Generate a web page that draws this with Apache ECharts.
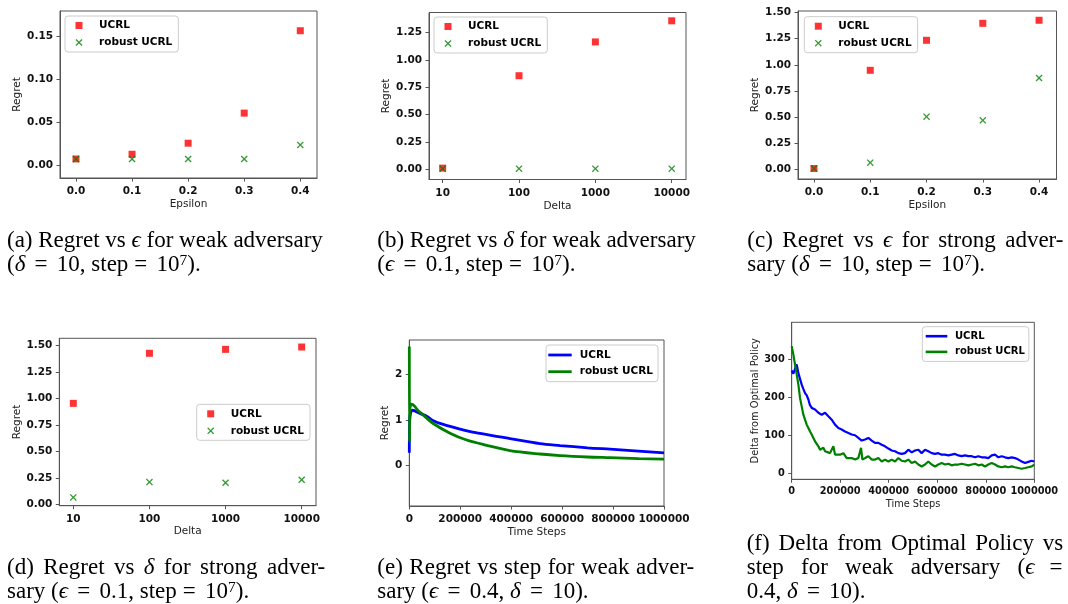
<!DOCTYPE html>
<html><head><meta charset="utf-8">
<script src="https://cdn.jsdelivr.net/npm/echarts@6/dist/echarts.min.js"></script>
<style>html,body{margin:0;padding:0;background:#fff}#c{width:1068px;height:604px}</style>
</head><body><div id="c"></div>
<script>
// ---------------- data ----------------
const epsilons = [0, 0.1, 0.2, 0.3, 0.4];
const deltaCats = ['10', '100', '1000', '10000'];

const aUCRL   = [0.0074, 0.0129, 0.0258, 0.0609, 0.157];
const aRobust = [0.0074, 0.0074, 0.0074, 0.0074, 0.0238];
const bUCRL   = [0.010, 0.855, 1.164, 1.357];
const bRobust = [0.005, 0.005, 0.005, 0.005];
const cUCRL   = [0.005, 0.947, 1.235, 1.398, 1.427];
const cRobust = [0.005, 0.061, 0.502, 0.467, 0.873];
const dUCRL   = [0.954, 1.425, 1.462, 1.484];
const dRobust = [0.069, 0.213, 0.207, 0.235];

const eUCRLSteps = [0, 1500, 5000, 13000, 42000, 68000, 94000, 133000, 199000, 260000, 356000, 395000, 513000, 592000, 700000, 788000, 900000, 1000000];
const eUCRLVals  = [0.28, 1.00, 1.15, 1.21, 1.14, 1.08, 0.98, 0.90, 0.80, 0.72, 0.63, 0.59, 0.48, 0.44, 0.39, 0.36, 0.32, 0.28];
const eRobustSteps = [0, 1000, 2500, 9000, 20000, 35000, 52000, 94000, 160000, 225000, 300000, 395000, 513000, 592000, 700000, 788000, 900000, 1000000];
const eRobustVals  = [2.60, 0.52, 1.25, 1.34, 1.30, 1.20, 1.12, 0.92, 0.71, 0.56, 0.45, 0.33, 0.255, 0.22, 0.19, 0.175, 0.155, 0.145];

const fUCRLSteps = [0, 7000, 14000, 20600, 28000, 41200, 48000, 55000, 62000, 68700, 75000, 82400, 96200, 110000, 123700, 137400, 151100, 164900, 178600, 192400, 206100, 219800, 233600, 247300, 261100, 274800, 288500, 302300, 316000, 329800, 343500, 357200, 371000, 384700, 398500, 412200, 425900, 439700, 453400, 467000, 480800, 494500, 508200, 522000, 535700, 549500, 563200, 577000, 590700, 604400, 618200, 631900, 645700, 659400, 673200, 686900, 700600, 714400, 728100, 741900, 755600, 769400, 783100, 796800, 810600, 824300, 838100, 851800, 865600, 879300, 893000, 906800, 920500, 934300, 948000, 961800, 975500, 989200, 1000000];
const fUCRLVals  = [270, 262, 275, 286, 262, 233, 222, 211, 205, 194, 180, 172, 168, 159, 154, 159, 150, 141, 128, 119, 115, 110, 106, 102, 100, 93, 86, 89, 93, 86, 80, 80, 75, 71, 65, 60, 58, 53, 51, 53, 62, 55, 60, 62, 53, 62, 58, 53, 51, 53, 49, 49, 47, 49, 51, 47, 45, 47, 45, 45, 42, 45, 42, 42, 40, 47, 49, 42, 45, 42, 40, 42, 40, 36, 31, 27, 30, 33, 31];
const fRobustSteps = [0, 3400, 6900, 13700, 20600, 27500, 34300, 41200, 48100, 55000, 61800, 68700, 75600, 82400, 89300, 96200, 103000, 110000, 116800, 123700, 130600, 137400, 144300, 158000, 171800, 178600, 185500, 199200, 213000, 226700, 233600, 247300, 261100, 274800, 285800, 291500, 302300, 316000, 329800, 343500, 357200, 371000, 384700, 398500, 412200, 425900, 439700, 453400, 467000, 480800, 494500, 508200, 522000, 535700, 549500, 563200, 577000, 590700, 604400, 618200, 631900, 645700, 659400, 673200, 686900, 700600, 714400, 728100, 741900, 755600, 769400, 783100, 796800, 810600, 824300, 838100, 851800, 865600, 879300, 893000, 906800, 920500, 934300, 948000, 961800, 975500, 989200, 1000000];
const fRobustVals  = [334, 330, 312, 286, 260, 233, 198, 176, 154, 141, 128, 119, 110, 102, 93, 84, 80, 71, 62, 58, 67, 58, 53, 53, 71, 49, 53, 49, 53, 40, 45, 40, 36, 40, 67, 36, 40, 45, 36, 36, 40, 31, 36, 31, 36, 31, 40, 33, 31, 36, 27, 31, 23, 18, 23, 31, 23, 18, 23, 27, 23, 25, 21, 23, 23, 25, 23, 21, 23, 25, 21, 23, 18, 23, 27, 23, 18, 16, 18, 16, 18, 16, 14, 12, 14, 16, 18, 23];

const epsTicks = [0, 0.1, 0.2, 0.3, 0.4];
const deltaTicks = [0, 1, 2, 3];
const aYTicks = [0, 0.05, 0.10, 0.15];
const bYTicks = [0, 0.25, 0.5, 0.75, 1.0, 1.25];
const cdYTicks = [0, 0.25, 0.5, 0.75, 1.0, 1.25, 1.5];
const eYTicks = [0, 1, 2];
const fYTicks = [0, 100, 200, 300];
const stepTicks = [0, 200000, 400000, 600000, 800000, 1000000];

// caption lines ("_" = stretched inter-word space of the justified line)
const captions = [
  {x: 7,     y: 229, sw: 5.75, lines: ['(a) Regret vs {i|ϵ} for weak adversary', '({i|δ} {eq|=} 10, step{eqL|=} 10{sup|7}).']},
  {x: 377.3, y: 229, sw: 5.75, lines: ['(b) Regret vs {i|δ} for weak adversary', '({i|ϵ} {eq|=} 0.1, step{eqL|=} 10{sup|7}).']},
  {x: 747.3, y: 229, sw: 9.5,  lines: ['(c)_Regret_vs_{i|ϵ}_for_strong_adver-', 'sary ({i|δ} {eq|=} 10, step{eqL|=} 10{sup|7}).']},
  {x: 7,     y: 556, sw: 9.4,  lines: ['(d)_Regret_vs_{i|δ}_for_strong_adver-', 'sary ({i|ϵ} {eq|=} 0.1, step{eqL|=} 10{sup|7}).']},
  {x: 377.3, y: 556, sw: 6.5,  lines: ['(e)_Regret_vs_step_for_weak_adver-', 'sary ({i|ϵ} {eq|=} 0.4, {i|δ} {eq|=} 10).']},
  {x: 746.7, y: 532, sw: 8.9,  lines: ['(f)_Delta_from_Optimal_Policy_vs', 'step   for   weak   adversary   ({i|ϵ}  {eq|=}', '0.4, {i|δ} {eq|=} 10).']}
];

// ---------------- styling helpers ----------------
const SANS = 'DejaVu Sans';
const SERIF = '"Liberation Serif", "DejaVu Serif", serif';
const AX = '#555';
const XPATH = 'path://M0,1.3L1.3,0L5,3.7L8.7,0L10,1.3L6.3,5L10,8.7L8.7,10L5,6.3L1.3,10L0,8.7L3.7,5Z';
const SQPATH = 'path://M0,0L10,0L10,10L0,10Z';

const grids = [
  {left: 60,    top: 11,    width: 257,   height: 167},
  {left: 429,   top: 12.5,  width: 257,   height: 167},
  {left: 798,   top: 11,    width: 258.5, height: 168},
  {left: 59.3,  top: 338.3, width: 256.7, height: 167.4},
  {left: 409.3, top: 340,   width: 254.7, height: 166},
  {left: 791.7, top: 322.3, width: 242.6, height: 157}
].map(g => Object.assign({show: true, borderColor: AX, borderWidth: 1, backgroundColor: 'transparent'}, g));

function axis(gi, min, max, ticks, fmt, name, nameGap, fs, margin) {
  return {
    type: 'value', gridIndex: gi, min: min, max: max,
    name: name, nameLocation: 'middle', nameGap: nameGap,
    nameTextStyle: {fontFamily: SANS, fontSize: fs, color: '#222'},
    axisLine: {show: true, onZero: false, lineStyle: {color: AX, width: 1}},
    axisTick: {show: true, inside: false, length: 3.5, customValues: ticks, lineStyle: {color: AX, width: 1}},
    axisLabel: {customValues: ticks, formatter: fmt, fontFamily: SANS, fontWeight: 'bold', fontSize: fs, color: '#111', margin: margin},
    splitLine: {show: false}
  };
}
const f1 = v => v.toFixed(1);
const f2 = v => v.toFixed(2);
const fi = v => String(Math.round(v));
const fd = v => deltaCats[Math.round(v)];

const xAxes = [
  axis(0, -0.0285, 0.4298, epsTicks, f1, 'Epsilon', 21, 10.5, 8),
  axis(1, -0.179, 3.187, deltaTicks, fd, 'Delta', 21, 10.5, 8),
  axis(2, -0.0284, 0.431, epsTicks, f1, 'Epsilon', 21, 10.5, 8),
  axis(3, -0.184, 3.188, deltaTicks, fd, 'Delta', 20.5, 10.5, 8),
  axis(4, 0, 1000000, stepTicks, fi, 'Time Steps', 20.5, 10.5, 8),
  axis(5, 0, 1000000, stepTicks, fi, 'Time Steps', 20.5, 9.8, 7.5)
];
const yAxes = [
  axis(0, -0.0148, 0.18, aYTicks, f2, 'Regret', 35, 10.5, 7),
  axis(1, -0.094, 1.433, bYTicks, f2, 'Regret', 35, 10.5, 7),
  axis(2, -0.096, 1.516, cdYTicks, f2, 'Regret', 34, 10.5, 7),
  axis(3, -0.009, 1.566, cdYTicks, f2, 'Regret', 34, 10.5, 7),
  axis(4, -0.879, 2.742, eYTicks, fi, 'Regret', 15.5, 10.5, 7),
  axis(5, -15.8, 397, fYTicks, fi, 'Delta from Optimal Policy', 30, 9.8, 7)
];

function legend(tag, left, top, o) {
  const l = {
    orient: 'vertical', left: left, top: top, selectedMode: false,
    data: ['UCRL#' + tag, 'robust UCRL#' + tag],
    formatter: n => n.split('#')[0],
    itemWidth: o.iw, itemHeight: o.ih, itemGap: o.gap, padding: o.pad,
    borderColor: '#cccccc', borderWidth: 1, borderRadius: 3,
    backgroundColor: 'rgba(255,255,255,0.8)',
    textStyle: {fontFamily: SANS, fontWeight: 'bold', fontSize: o.fs, color: '#000', lineHeight: 12, padding: [0, 0, 0, o.tp]}
  };
  if (o.icon) l.icon = o.icon;
  return l;
}
const scatLeg = {iw: 7, ih: 7, gap: 5, pad: [3.5, 6, 3.5, 10.5], fs: 10.5, tp: 11.5};
const legends = [
  legend('a', 65, 16, scatLeg),
  legend('b', 434, 17, scatLeg),
  legend('c', 804.3, 16.7, scatLeg),
  legend('d', 196.7, 404.3, scatLeg),
  legend('e', 546, 345, {iw: 23.4, ih: 2.8, gap: 4.7, pad: [4, 5, 4, 2.3], fs: 10.5, tp: 3, icon: 'rect'}),
  legend('f', 922.3, 326.7, {iw: 21.6, ih: 2.6, gap: 3.7, pad: [3.5, 4, 3.5, 3.4], fs: 10, tp: 2.7, icon: 'rect'})
];

function scat(tag, gi, xs, ys, robust) {
  return {
    type: 'scatter', name: (robust ? 'robust UCRL#' : 'UCRL#') + tag,
    xAxisIndex: gi, yAxisIndex: gi,
    symbol: robust ? XPATH : SQPATH, symbolSize: 7,
    itemStyle: {color: robust ? '#008000' : '#ff0000'},
    emphasis: {disabled: true}, z: robust ? 3 : 2,
    data: xs.map((x, i) => [x, ys[i]])
  };
}
function line(tag, gi, xs, ys, robust, w, smooth) {
  const col = robust ? '#008000' : '#0000ff';
  return {
    type: 'line', name: (robust ? 'robust UCRL#' : 'UCRL#') + tag,
    xAxisIndex: gi, yAxisIndex: gi, symbol: 'none', showSymbol: false, smooth: smooth,
    lineStyle: {color: col, width: w}, itemStyle: {color: col},
    emphasis: {disabled: true}, z: robust ? 3 : 2,
    data: xs.map((x, i) => [x, ys[i]])
  };
}

const series = [
  scat('a', 0, epsilons, aUCRL, false), scat('a', 0, epsilons, aRobust, true),
  scat('b', 1, deltaTicks, bUCRL, false), scat('b', 1, deltaTicks, bRobust, true),
  scat('c', 2, epsilons, cUCRL, false), scat('c', 2, epsilons, cRobust, true),
  scat('d', 3, deltaTicks, dUCRL, false), scat('d', 3, deltaTicks, dRobust, true),
  line('e', 4, eUCRLSteps, eUCRLVals, false, 2.8, 0.3), line('e', 4, eRobustSteps, eRobustVals, true, 2.8, 0.3),
  line('f', 5, fUCRLSteps, fUCRLVals, false, 2.2, false), line('f', 5, fRobustSteps, fRobustVals, true, 2.2, false)
];

function richFor(sw) {
  return {
    i: {fontFamily: SERIF, fontSize: 23, fontStyle: 'italic', lineHeight: 24, fill: '#000'},
    sup: {fontFamily: SERIF, fontSize: 15.5, lineHeight: 12, verticalAlign: 'top', fill: '#000'},
    eq: {fontFamily: SERIF, fontSize: 23, lineHeight: 24, fill: '#000', padding: [0, 3.5, 0, 3.5]},
    eqL: {fontFamily: SERIF, fontSize: 23, lineHeight: 24, fill: '#000', padding: [0, 3.5, 0, 6]},
    s: {fontFamily: SERIF, fontSize: 23, lineHeight: 24, width: sw, fill: '#000'}
  };
}
const graphic = captions.map(c => ({
  type: 'text', left: c.x, top: c.y, silent: true,
  style: {
    text: c.lines.map(l => l.replace(/_/g, '{s| }')).join('\n'),
    fontFamily: SERIF, fontSize: 23, lineHeight: 24, fill: '#000', rich: richFor(c.sw)
  }
}));

const chart = echarts.init(document.getElementById('c'), null, {renderer: 'canvas'});
chart.setOption({
  animation: false,
  backgroundColor: '#ffffff',
  textStyle: {fontFamily: SANS},
  grid: grids, xAxis: xAxes, yAxis: yAxes, legend: legends, series: series, graphic: graphic
});
</script></body></html>
